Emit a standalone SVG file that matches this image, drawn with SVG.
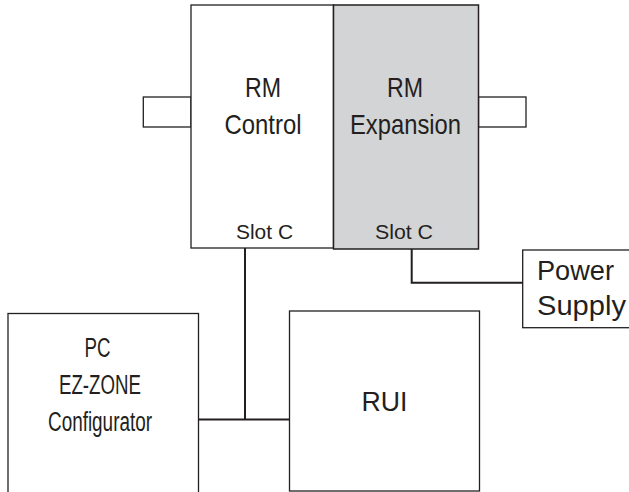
<svg xmlns="http://www.w3.org/2000/svg" width="629" height="492" viewBox="0 0 629 492">
<style>
.box{fill:#ffffff;stroke:#231f20;stroke-width:1.3}
.gray{fill:#d3d4d6;stroke:#231f20;stroke-width:1.5}
.wire{fill:none;stroke:#231f20;stroke-width:2}
text{font-family:"Liberation Sans",Arial,sans-serif;fill:#231f20}
.big{font-size:28px;text-anchor:middle}
.pc{font-size:27px;text-anchor:middle}
.slot{font-size:19.5px;text-anchor:middle}
.ps{font-size:28px}
</style>
<rect width="629" height="492" fill="#ffffff"/>
<g id="stub-left"><rect class="box" x="143.3" y="97" width="47.7" height="30"/></g>
<g id="stub-right"><rect class="box" x="478.5" y="97" width="47.5" height="30"/></g>
<g id="rm-control">
<rect class="box" x="191" y="5" width="142.5" height="243"/>
<text class="big" x="263" y="97" textLength="36" lengthAdjust="spacingAndGlyphs">RM</text>
<text class="big" x="263" y="134" textLength="77" lengthAdjust="spacingAndGlyphs">Control</text>
<text class="slot" x="264.5" y="238.5" textLength="57" lengthAdjust="spacingAndGlyphs">Slot C</text>
</g>
<g id="rm-expansion">
<rect class="gray" x="333.5" y="5" width="145" height="244"/>
<text class="big" x="405" y="97" textLength="36" lengthAdjust="spacingAndGlyphs">RM</text>
<text class="big" x="405.5" y="134" textLength="111" lengthAdjust="spacingAndGlyphs">Expansion</text>
<text class="slot" x="404" y="238.5" textLength="58" lengthAdjust="spacingAndGlyphs">Slot C</text>
</g>
<g id="power-supply">
<rect class="box" x="522.7" y="250" width="120" height="77.7"/>
<text class="ps" x="537" y="279.5" textLength="77" lengthAdjust="spacingAndGlyphs">Power</text>
<text class="ps" x="537" y="314.5" textLength="89" lengthAdjust="spacingAndGlyphs">Supply</text>
</g>
<g id="pc">
<rect class="box" x="8" y="313.5" width="190.5" height="200"/>
<text class="pc" x="97.5" y="357" textLength="26" lengthAdjust="spacingAndGlyphs">PC</text>
<text class="pc" x="100" y="394" textLength="82" lengthAdjust="spacingAndGlyphs">EZ-ZONE</text>
<text class="pc" x="100" y="431" textLength="104" lengthAdjust="spacingAndGlyphs">Configurator</text>
</g>
<g id="rui">
<rect class="box" x="289.5" y="311" width="190" height="180"/>
<text x="384.5" y="411" font-size="27" text-anchor="middle" textLength="46" lengthAdjust="spacingAndGlyphs">RUI</text>
</g>
<g id="connectors">
<polyline class="wire" points="245,248 245,419.5"/>
<line class="wire" x1="198.5" y1="419.5" x2="289.5" y2="419.5"/>
<polyline class="wire" points="411.7,249 411.7,282.7 522.7,282.7"/>
</g>
</svg>
